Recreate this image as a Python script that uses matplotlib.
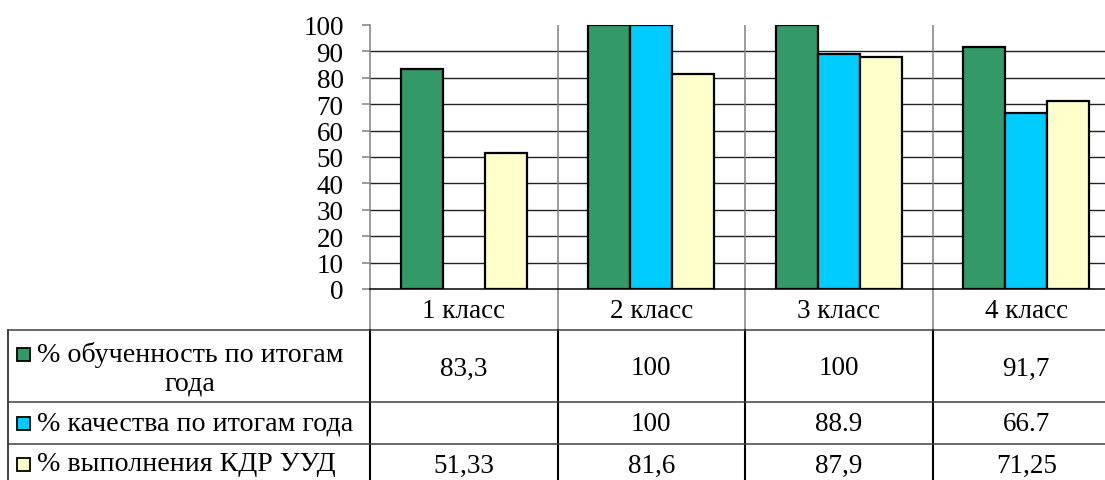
import matplotlib
matplotlib.use('Agg')
import matplotlib.pyplot as plt
import numpy as np
from matplotlib.patches import Rectangle
from matplotlib import transforms

categories = ['1 класс', '2 класс', '3 класс', '4 класс']
series_labels = ['% обученность по итогам\nгода', '% качества по итогам года', '% выполнения КДР УУД']
obuch = [83.3, 100, 100, 91.7]
kach = [np.nan, 100, 88.9, 66.7]
kdr = [51.33, 81.6, 87.9, 71.25]
table_obuch = ['83,3', '100', '100', '91,7']
table_kach = ['', '100', '88.9', '66.7']
table_kdr = ['51,33', '81,6', '87,9', '71,25']
yticks = list(range(0, 101, 10))
colors = ['#339966', '#00CCFF', '#FFFFCC']

plt.rcParams['font.family'] = ['Liberation Serif', 'DejaVu Serif']
FS = 19.5
FS_T = 20.2

W, H = 1105, 481
fig = plt.figure(figsize=(W / 100, H / 100), dpi=100)

# overlay axes in pixel coordinates (from top)
ov = fig.add_axes([0, 0, 1, 1])
ov.set_xlim(0, W)
ov.set_ylim(H, 0)
ov.axis('off')

# bar axes
ax = fig.add_axes([370 / W, (H - 290) / H, 750 / W, 264 / H])
x = np.arange(len(categories))
bw = 0.224
series = [obuch, kach, kdr]
for i, (vals, c) in enumerate(zip(series, colors)):
    vals = np.array(vals, dtype=float)
    m = ~np.isnan(vals)
    ax.bar(x[m] + (i - 1) * bw, vals[m], width=bw, color=c,
           edgecolor='black', linewidth=1.6, zorder=3)

ax.set_xlim(-0.5, len(categories) - 0.5)
ax.set_ylim(0, 100)
ax.set_yticks(yticks)
ax.set_yticklabels([str(t) for t in yticks], fontsize=FS)
ax.set_xticks([])
for t in yticks[1:-1]:
    ax.axhline(t, color='#222222', lw=1.0, zorder=1)
for b in x[:-1] + 0.5:
    ax.axvline(b, color='#808080', lw=1.1, zorder=1)
for s in ['top', 'right']:
    ax.spines[s].set_visible(False)
ax.spines['left'].set_color('#808080')
ax.spines['left'].set_linewidth(1.1)
ax.spines['bottom'].set_color('black')
ax.spines['bottom'].set_linewidth(1.1)
ax.tick_params(axis='y', direction='out', length=6, width=1.1, color='#808080', pad=13)

# table: x in category data coords, y in pixels from top
tr = transforms.blended_transform_factory(ax.transData, ov.transData)
bounds = list(x - 0.5) + [x[-1] + 0.5]
row_lines = [331, 403, 445]
text_y = [369, 425, 466]

# vertical lines
for b in bounds:
    ov.plot([b, b], [290, 331], color='#808080', lw=1.1, transform=tr, clip_on=False)
    ov.plot([b, b], [331, H + 10], color='black', lw=1.5, transform=tr, clip_on=False)
ov.plot([8, 8], [331, H + 10], color='#202020', lw=1.2, clip_on=False)
for ry in row_lines:
    ov.plot([8, W + 20], [ry, ry], color='#404040', lw=1.1, clip_on=False)

# header
for xi, cat in zip(x, categories):
    ov.text(xi, 312, cat, transform=tr, ha='center', va='center', fontsize=FS)

# values
for vals, ty in zip([table_obuch, table_kach, table_kdr], text_y):
    for xi, v in zip(x, vals):
        ov.text(xi, ty, v, transform=tr, ha='center', va='center', fontsize=FS)

# row labels with legend keys
label_y = [355, 424, 465]
for lab, ly, c in zip(series_labels, label_y, colors):
    lines = lab.split('\n')
    ov.add_patch(Rectangle((17, ly - 6), 13, 13, facecolor=c, edgecolor='black', lw=1.3))
    ov.text(37, ly, lines[0], ha='left', va='center', fontsize=FS_T)
    if len(lines) > 1:
        ov.text(190, ly + 29, lines[1], ha='center', va='center', fontsize=FS_T)

fig.savefig('out.png', dpi=100)
